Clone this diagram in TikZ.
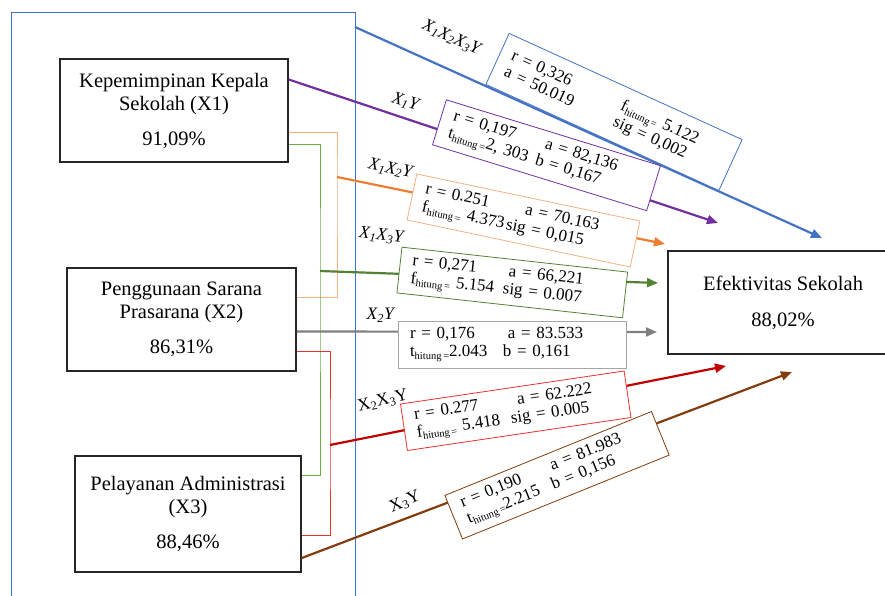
\documentclass[tikz,border=0pt]{standalone}
\usepackage{fontspec}
\setmainfont{Liberation Serif}
\usepackage{tikz}
\usetikzlibrary{arrows.meta}
\definecolor{cblue}{HTML}{4472C4}
\definecolor{cpurple}{HTML}{7030A0}
\definecolor{corange}{HTML}{ED7D31}
\definecolor{corangelt}{HTML}{F4B183}
\definecolor{cgreen}{HTML}{548235}
\definecolor{cgreenlt}{HTML}{70AD47}
\definecolor{cred}{HTML}{C00000}
\definecolor{credlt}{HTML}{E8302C}
\definecolor{cbrown}{HTML}{843C0C}
\definecolor{cgray}{HTML}{7F7F7F}
\definecolor{cgraylt}{HTML}{A6A6A6}
\newcommand{\hitung}[1]{#1\raisebox{-0.35ex}{\fontsize{10.5}{10}\selectfont hitung\,=}}

\begin{document}
\begin{tikzpicture}[x=1pt, y=-1pt,
  var/.style={draw=black!85, line width=1.5pt, fill=white, align=center,
    font=\fontsize{20.5}{23}\selectfont, inner sep=0pt},
  stat/.style={draw=#1, line width=0.8pt, fill=white, align=left,
    font=\fontsize{17}{18}\selectfont, inner xsep=12pt, inner ysep=0pt},
  link/.style={line width=2.2pt, -{Triangle[length=11pt,width=9pt]}},
  bracket/.style={line width=0.9pt},
  lbl/.style={font=\fontsize{17.5}{17}\selectfont, inner sep=0pt}]
\useasboundingbox (0,0) rectangle (885,596);
\draw[cblue, line width=1pt] (11,596) |- (355,13) -- (355,596);
\node[var, minimum width=228pt, minimum height=103pt] (X1) at (174,110.5) {Kepemimpinan Kepala\\Sekolah (X1)\\[12pt]91,09\%};
\node[var, minimum width=229pt, minimum height=103pt] (X2) at (181.5,319.5) {Penggunaan Sarana\\Prasarana (X2)\\[12pt]86,31\%};
\node[var, minimum width=226pt, minimum height=116pt] (X3) at (188,514) {Pelayanan Administrasi\\(X3)\\[12pt]88,46\%};
\node[var, minimum width=230pt, minimum height=103pt] (Y) at (783,302.5) {Efektivitas Sekolah\\[13pt]88,02\%};
\coordinate (grp) at (355,27);
\coordinate (o1) at (337,177);
\coordinate (g1) at (320,271);
\coordinate (r1) at (330,445);
\coordinate (endB) at (822,238);
\coordinate (endP) at (718,223);
\coordinate (endO) at (665,244);
\coordinate (endG) at (658,283);
\coordinate (endGr) at (657,332);
\coordinate (endR) at (726,366);
\coordinate (endBr) at (792,372);
\draw[bracket, corangelt] ([yshift=-22pt]X1.east) -| (o1) |- ([yshift=22pt]X2.east);
\draw[bracket, cgreenlt] ([yshift=-34pt]X1.east) -| (g1) |- ([yshift=39pt]X3.east);
\draw[bracket, credlt] ([yshift=-32pt]X2.east) -| (r1) |- ([yshift=-21pt]X3.east);
\draw[link, cblue] (grp) -- (endB);
\draw[link, cpurple] ([yshift=31pt]X1.east) -- (endP);
\draw[link, corange] (o1) -- (endO);
\draw[link, cgreen] (g1) -- (endG);
\draw[link, cgray] ([yshift=-12pt]X2.east) -- (endGr);
\draw[link, cred] (r1) -- (endR);
\draw[link, cbrown] ([yshift=-44pt]X3.east) -- (endBr);
\node[stat=cblue, rotate=-24.5, text width=232pt, minimum height=56pt] (sB) at (614,112)
  {\makebox[120pt][l]{r = 0,326}\hitung{f} 5.122\\\makebox[120pt][l]{a = 50.019}sig = 0,002};
\node[stat=cpurple, rotate=-17.1, text width=200pt, minimum height=47pt] (sP) at (546.5,155.25)
  {\makebox[96pt][l]{r = 0,197}a = 82,136\\\makebox[91pt][l]{\hitung{t}2, 303}b = 0,167};
\node[stat=corangelt, rotate=-11.9, text width=204pt, minimum height=47pt] (sO) at (523.5,220.5)
  {\makebox[102pt][l]{r = 0.251}a = 70.163\\\makebox[86pt][l]{\hitung{f} 4.373}sig = 0,015};
\node[stat=cgreen, rotate=-6.3, text width=203pt, minimum height=46pt] (sG) at (512.25,282.5)
  {\makebox[97pt][l]{r = 0,271}a = 66,221\\\makebox[93pt][l]{\hitung{f} 5.154}sig = 0.007};
\node[stat=cgraylt, text width=204pt, minimum height=47pt] (sGr) at (512,344.5)
  {\makebox[98pt][l]{r = 0,176}a = 83.533\\\makebox[93pt][l]{\hitung{t}2.043}b = 0,161};
\node[stat=credlt, rotate=8.4, text width=202pt, minimum height=47pt] (sR) at (515.75,410.75)
  {\makebox[104pt][l]{r = 0.277}a = 62.222\\\makebox[95pt][l]{\hitung{f} 5.418}sig = 0.005};
\node[stat=cbrown, rotate=22.1, text width=199pt, minimum height=47pt] (sBr) at (557,475.25)
  {\makebox[97pt][l]{r = 0,190}a = 81.983\\\makebox[91pt][l]{\hitung{t}2.215}b = 0,156};
\node[lbl, rotate=-24.5] (lB) at (452,38) {\textit{X\textsubscript{1}X\textsubscript{2}X\textsubscript{3}Y}};
\node[lbl, rotate=-17] (lP) at (406,102) {\textit{X\textsubscript{1}Y}};
\node[lbl, rotate=-12] (lO) at (391,169) {\textit{X\textsubscript{1}X\textsubscript{2}Y}};
\node[lbl, rotate=-6] (lG) at (382,236) {\textit{X\textsubscript{1}X\textsubscript{3}Y}};
\node[lbl] (lGr) at (381,315) {\textit{X\textsubscript{2}Y}};
\node[lbl, rotate=14] (lR) at (383,401) {X\textsubscript{2}X\textsubscript{3}Y};
\node[lbl, rotate=22] (lBr) at (405,502) {X\textsubscript{3}Y};
\end{tikzpicture}
\end{document}
